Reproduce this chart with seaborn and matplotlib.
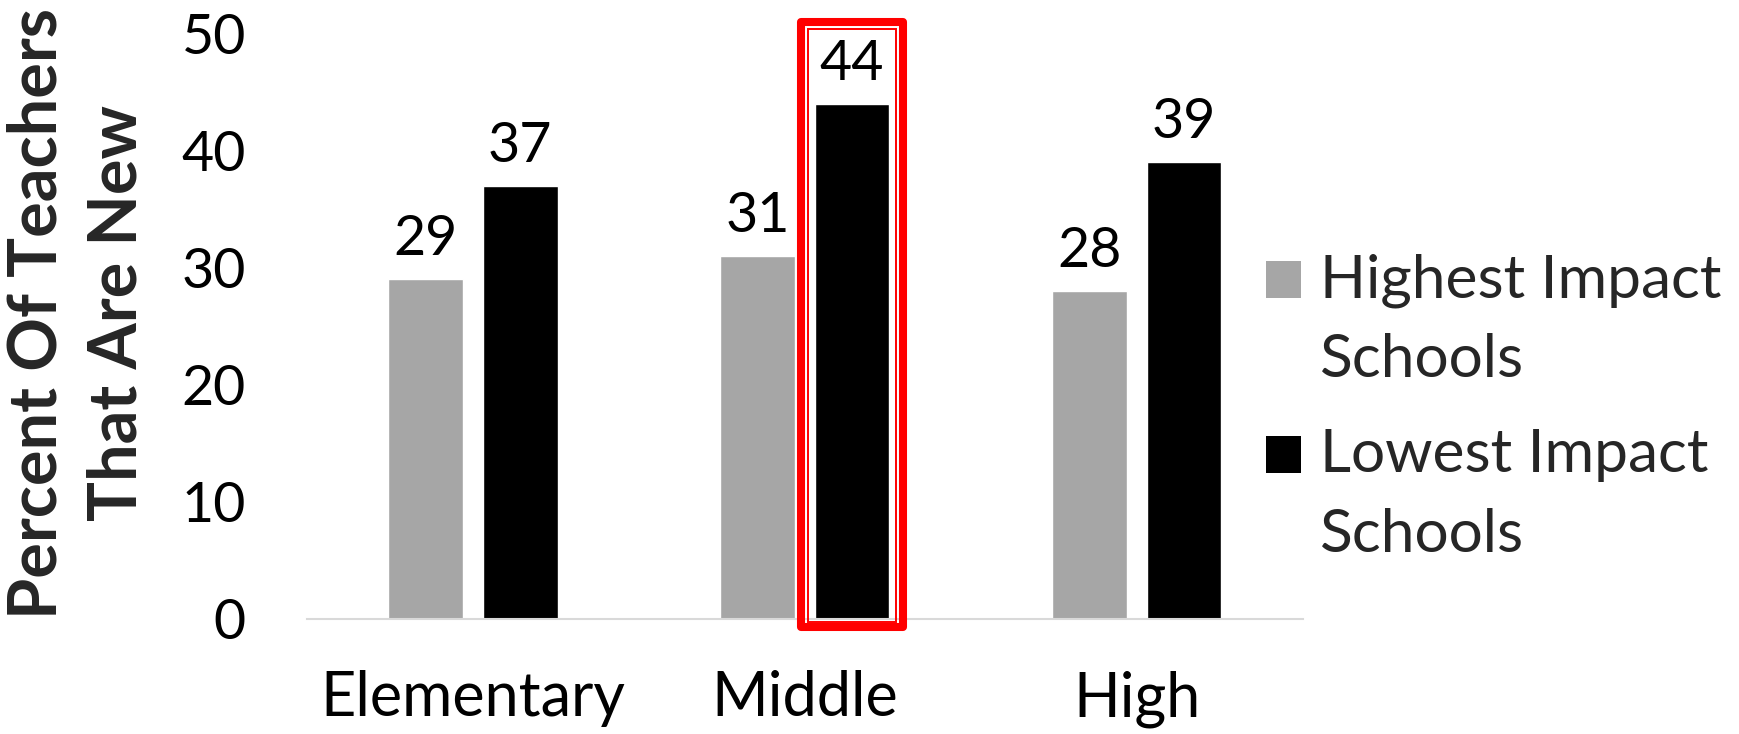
import matplotlib
matplotlib.use("Agg")
import matplotlib.pyplot as plt
import seaborn as sns
import pandas as pd
from matplotlib.patches import Rectangle
from matplotlib.legend_handler import HandlerPatch

# School levels and the share of new teachers in each group
levels = ["Elementary", "Middle", "High"]
series_names = ["Highest Impact\nSchools", "Lowest Impact\nSchools"]
highest_impact = [29, 31, 28]
lowest_impact = [37, 44, 39]
y_ticks = [0, 10, 20, 30, 40, 50]
highlight_level = "Middle"

df = pd.DataFrame({
    "Level": levels * 2,
    "Group": [series_names[0]] * len(levels) + [series_names[1]] * len(levels),
    "Percent": highest_impact + lowest_impact,
})

sns.set_theme(style="white")
plt.rcParams["font.family"] = ["Lato", "DejaVu Sans"]

NUM_FS = 40
CAT_FS = 44
LEG_FS = 43.5
LEG_LINESPACING = 1.58
LEG_LINE_GAP = 0.74 * LEG_LINESPACING + 0.19   # baseline-to-baseline, in em


class FirstLineSquare(HandlerPatch):
    """Square legend key lined up with the first line of a two-line label."""

    def create_artists(self, legend, orig_handle, xdescent, ydescent,
                       width, height, fontsize, trans):
        shift = 0.5 * LEG_LINE_GAP * fontsize
        p = Rectangle((-xdescent, -ydescent + shift), width, height,
                      facecolor=orig_handle.get_facecolor(),
                      edgecolor="none", transform=trans)
        return [p]


fig = plt.figure(figsize=(17.39, 7.34), dpi=100, facecolor="white")
ax = fig.add_axes([0.1765, 0.1567, 0.5725, 0.798])

sns.barplot(
    data=df, x="Level", y="Percent", hue="Group",
    order=levels, hue_order=series_names,
    palette=["#a6a6a6", "#000000"], saturation=1,
    width=0.57, gap=0.21, errorbar=None, ax=ax,
)

ax.set_xlim(-0.5, len(levels) - 0.5)
ax.set_ylim(0, 50)
ax.set_yticks(y_ticks)
ax.set_xlabel("")
ax.set_ylabel("")
for side in ["top", "right", "left"]:
    ax.spines[side].set_visible(False)
ax.spines["bottom"].set_color("#d9d9d9")
ax.spines["bottom"].set_linewidth(1.5)
ax.tick_params(axis="y", length=0, labelsize=NUM_FS, pad=44, colors="black")
ax.tick_params(axis="x", length=0, labelsize=CAT_FS, pad=37, colors="black")

# value labels above the bars
for cont in ax.containers:
    ax.bar_label(cont, fmt="%d", padding=10, fontsize=NUM_FS, color="black")

# highlight box around the middle-school lowest-impact bar
bar = ax.containers[1][levels.index(highlight_level)]
bx, bw = bar.get_x(), bar.get_width()
ax.add_patch(Rectangle((bx - 0.042, -0.7), bw + 0.084, 51.0 + 0.7,
                       fill=False, edgecolor="#ff0000", linewidth=5.8,
                       joinstyle="round", clip_on=False, zorder=5))
ax.add_patch(Rectangle((bx - 0.021, -0.25), bw + 0.042, 50.4 + 0.25,
                       fill=False, edgecolor="#ff0000", linewidth=1.4,
                       clip_on=False, zorder=5))

fig.text(0.0447, 0.573, "Percent Of Teachers\nThat Are New", rotation=90,
         ha="center", va="center", multialignment="center",
         fontsize=48, fontweight="bold", linespacing=1.36)

handles, labels = ax.get_legend_handles_labels()
leg = ax.legend(handles, labels, loc="center left",
                bbox_to_anchor=(0.728, 0.445),
                bbox_transform=fig.transFigure, frameon=False,
                fontsize=LEG_FS, handlelength=0.58, handleheight=0.58,
                handletextpad=0.31, labelspacing=0.68, borderpad=0,
                borderaxespad=0,
                handler_map={Rectangle: FirstLineSquare()})
for t in leg.get_texts():
    t.set_linespacing(LEG_LINESPACING)

fig.savefig("out.png", dpi=100, facecolor="white")
